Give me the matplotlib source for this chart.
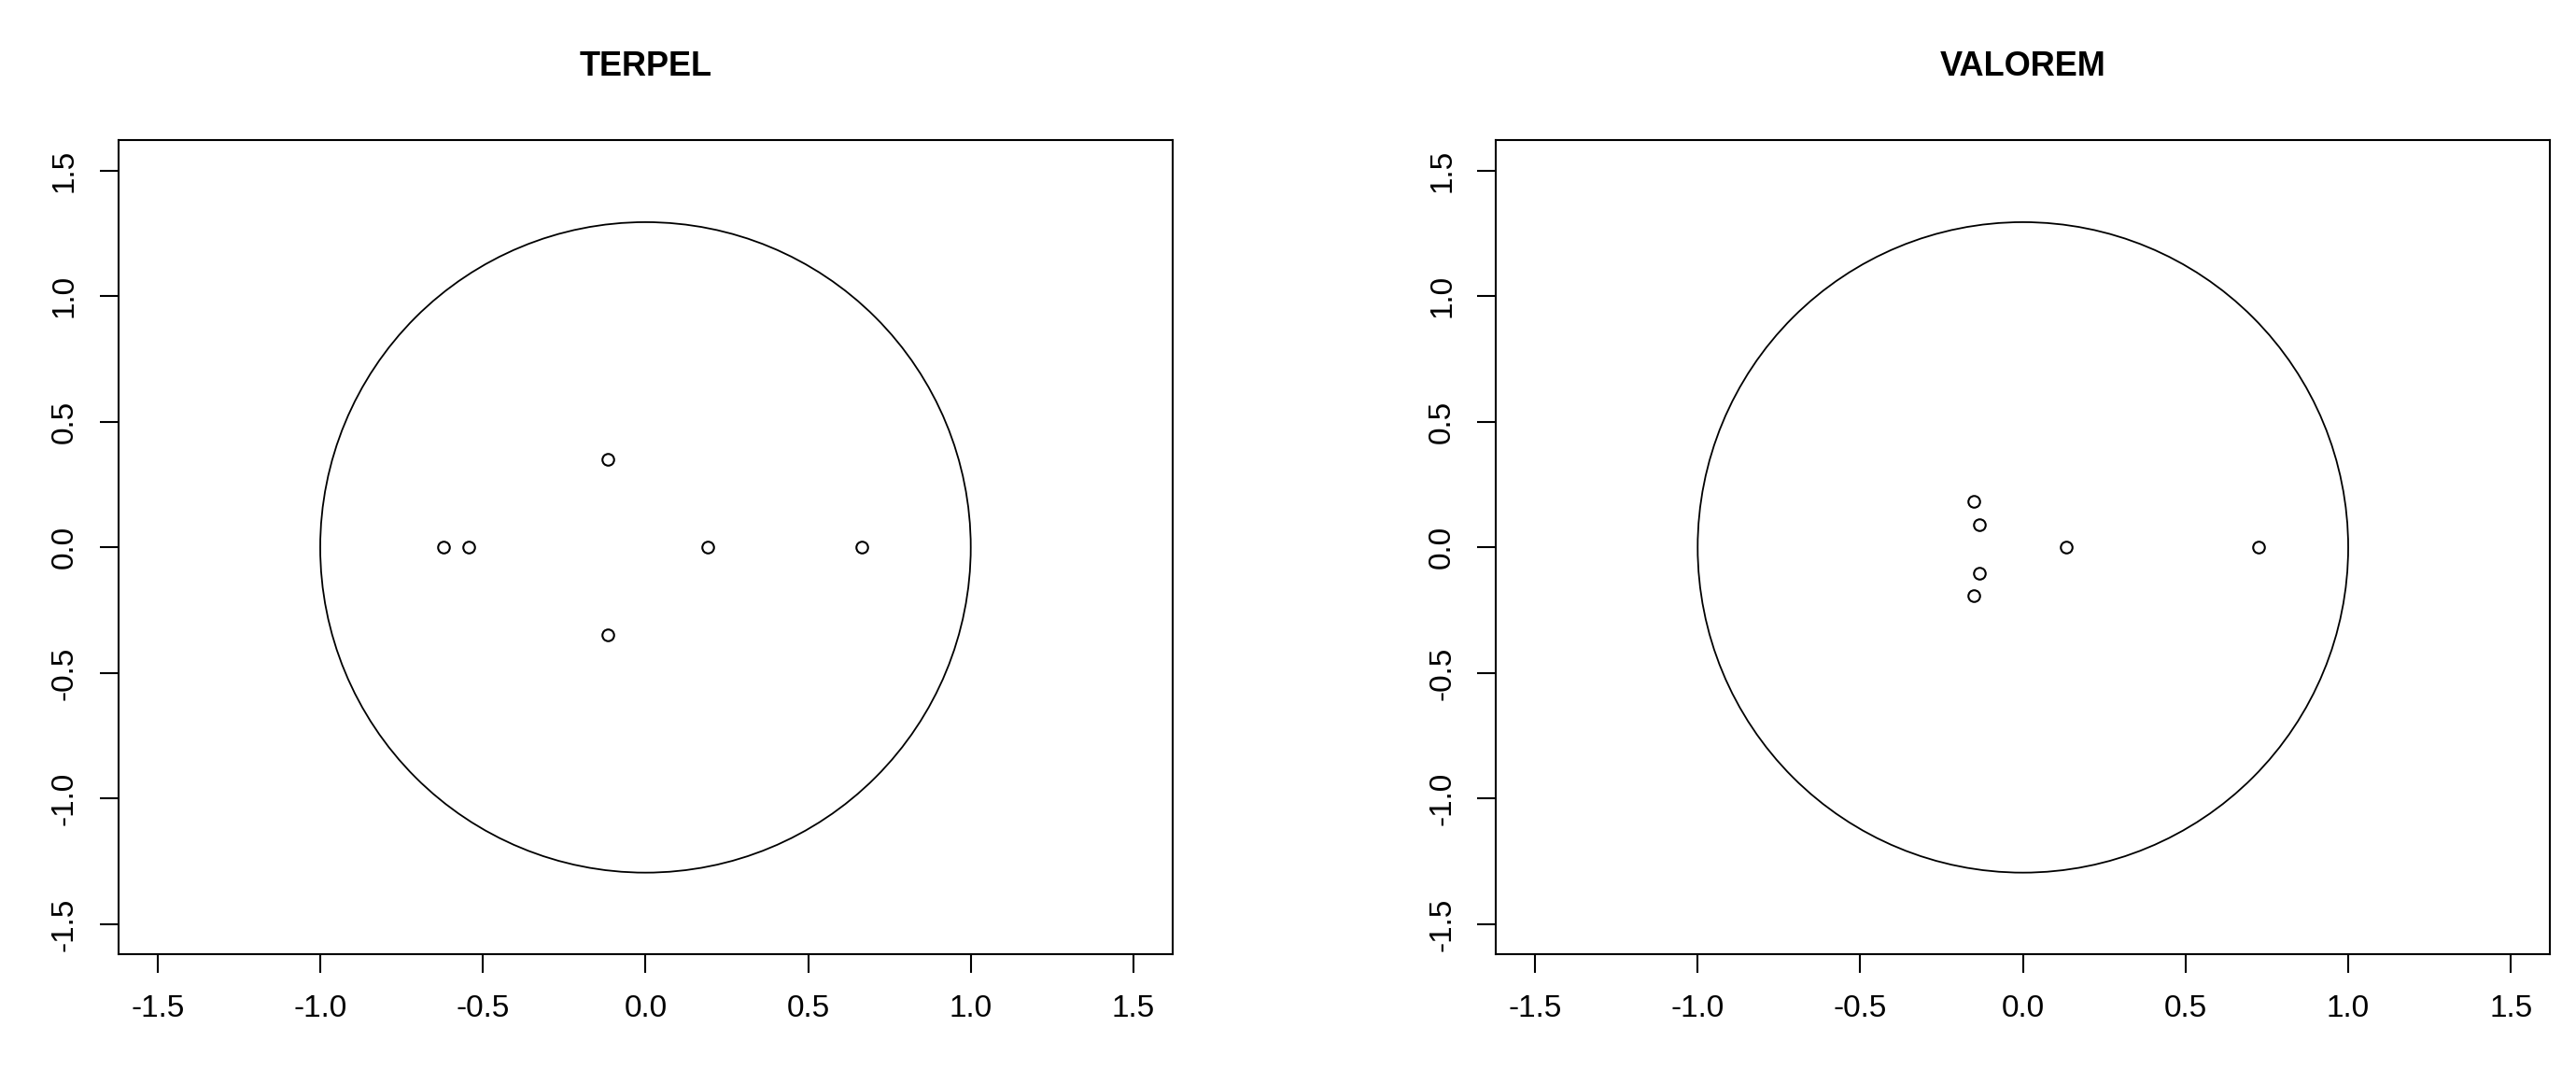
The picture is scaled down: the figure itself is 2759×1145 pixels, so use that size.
import matplotlib
matplotlib.use("Agg")
import matplotlib.pyplot as plt
import numpy as np
from matplotlib.patches import Ellipse

plt.rcParams['font.family'] = ['Liberation Sans', 'DejaVu Sans']

# inverse roots
titles = ["TERPEL", "VALOREM"]
terpel_re = [-0.622, -0.544, -0.116, -0.116, 0.192, 0.666]
terpel_im = [0.0, 0.0, 0.35, -0.35, 0.0, 0.0]
valorem_re = [-0.152, -0.135, -0.135, -0.152, 0.133, 0.725]
valorem_im = [0.183, 0.092, -0.102, -0.193, 0.0, 0.0]
ticks = [-1.5, -1.0, -0.5, 0.0, 0.5, 1.0, 1.5]
lim = (-1.62, 1.62)

W, H = 2759, 1145
fig = plt.figure(figsize=(W / 100, H / 100), dpi=100)
fig.patch.set_facecolor('white')

ax_boxes = [(127, 150.3, 1128.7, 872), (1602.3, 150.3, 1128.7, 872)]
series = [(terpel_re, terpel_im), (valorem_re, valorem_im)]

for (x0, y0, w, h), title, (re, im) in zip(ax_boxes, titles, series):
    ax = fig.add_axes([x0 / W, 1 - (y0 + h) / H, w / W, h / H])
    ax.set_xlim(lim)
    ax.set_ylim(lim)
    ax.set_xticks(ticks)
    ax.set_yticks(ticks)
    ax.set_xticklabels(['%.1f' % t for t in ticks])
    ax.set_yticklabels(['%.1f' % t for t in ticks])
    for sp in ax.spines.values():
        sp.set_linewidth(1.5)
    ax.tick_params(axis='both', length=14.4, width=1.5, labelsize=24)
    ax.tick_params(axis='x', pad=16)
    ax.tick_params(axis='y', pad=16, labelrotation=90)
    for lab in ax.get_yticklabels():
        lab.set_va('center')

    # unit circle, drawn round on the device like R's symbols()
    ratio = (w / (lim[1] - lim[0])) / (h / (lim[1] - lim[0]))
    ax.add_patch(Ellipse((0, 0), 2, 2 * ratio, fill=False, ec='black', lw=1.3))

    ax.plot(re, im, 'o', mfc='none', mec='black', ms=9, mew=1.5)

    fig.text((x0 + w / 2) / W, 1 - 71.7 / H, title, ha='center', va='center',
             fontsize=26, fontweight='bold')

fig.savefig('out.png', dpi=100, facecolor='white')
